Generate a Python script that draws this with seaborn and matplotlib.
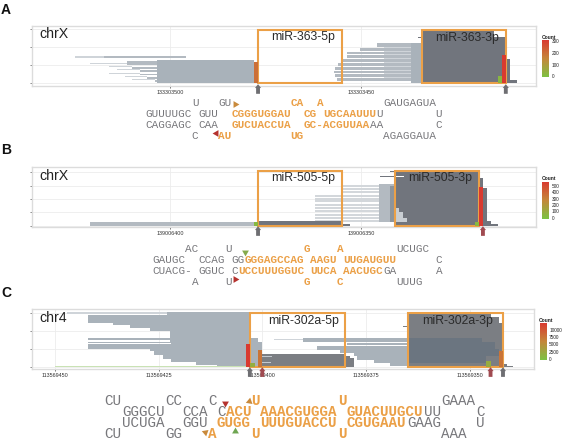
import numpy as np
import matplotlib
matplotlib.use("Agg")
import matplotlib.pyplot as plt
from matplotlib.path import Path
from matplotlib.patches import Rectangle
from matplotlib.cm import ScalarMappable
from matplotlib.colors import Normalize
import seaborn as sns

W, H = 571, 448
sns.set_theme(style="whitegrid", rc={"font.family": "Liberation Sans", "grid.color": "#ececec", "grid.linewidth": 0.6,
                                     "axes.edgecolor": "#dcdcdc", "axes.linewidth": 1.0})

PALE, MEDIUM, LIGHT, MID, DARK = "#cfd4d9", "#b3bac1", "#a9b2ba", "#6b7580", "#71757d"
ORANGE = "#eba047"
CMAP = sns.blend_palette(["#7cc242", "#c4873a", "#d93a30"], as_cmap=True)

# ---------- panel A (offsets in bases from base_a, rows in read counts)
base_a = 133303450
ticks_a = [133303500, 133303450]
yticks_a = [0, 100, 200, 300]
a_pale_start = [75, 71, 66, 64, 66, 62, 60, 75, -6, -16, -16]
a_pale_end = [67.5, 61.4, 60, 58, 58, 56, 54, 54, -13, -20, -18]
a_pale_low = [142, 107, 90, 72, 53, 35, 17, 1, 10, 145, 20]
a_pale_high = [149, 112, 96, 77, 59, 40, 22, 3, 223, 150, 30]
a_med_start = [67.5, 61.4, 60, 58, 58, 56, 54, -4.2, .2, 3.7, 3.7, 4.6, 5.9, 6.75, 7, 6.75, 6.3]
a_med_end = [46, 50, 50, 50, 50, 50, 50, -16, -16, -16, -16, -16, -16, -16, -16, -16, -16]
a_med_low = [140, 99, 80, 62, 43, 24, 5, 204, 180, 162, 140, 118, 96, 75, 55, 35, 11]
a_med_high = [149, 121, 92, 72, 53, 35, 17, 223, 197, 175, 155, 134, 112, 88, 70, 50, 29]
a_li_start = [53.5, -13]
a_li_end = [28, -16]
a_li_low = [0, 0]
a_li_high = [127, 223]
a_dk_start = [-16, -35, -38, -39, -15]
a_dk_end = [-35, -38, -39, -41, -16]
a_dk_low = [0, 0, 0, 0, 252]
a_dk_high = [296, 255, 136, 20, 257]
a_col_start = [28, -37, -36, 47, 65]
a_col_end = [27, -38, -37, 46, 63]
a_col_high = [120, 155, 40, 3, 3]
a_col_count = [200, 309, 20, 15, 15]
a_boxes = [(27, 5), (-16, -38)]
a_box_low, a_box_high = 0, 296
a_arrows = [27, -38]
a_arrow_colors = ["#6e6e72", "#6e6e72"]

# ---------- panel B
base_b = 139006350
ticks_b = [139006400, 139006350]
yticks_b = [0, 100, 200, 300, 400]
b_pale_start = [12, 12, 12, 12, 12, 12, 12, 12, 12,
                4.6, 4.6, 4.6, 4.6, 4.6, 4.6, 4.6, 4.6, 4.6, 4.6, 4.6, 4.6]
b_pale_end = [5] * 9 + [-5] * 12
b_pale_low = [25, 50, 75, 100, 125, 150, 175, 196, 216,
              25, 50, 75, 100, 125, 150, 175, 196, 216, 246, 266, 290]
b_pale_high = [41, 66, 91, 116, 141, 166, 191, 211, 231,
               41, 66, 91, 116, 141, 166, 191, 211, 231, 261, 281, 305]
b_li_start = [71, 5, -4.8]
b_li_end = [27, 3, -9]
b_li_low = [0, 0, 25]
b_li_high = [24, 10, 315]
b_md_start = [-7.5]
b_md_end = [-9]
b_md_low = [30]
b_md_high = [300]
b_dk_start = [27, 5, -9, -31, -32, -33, -34, -5, -7.5]
b_dk_end = [5, 3, -31, -32, -33, -34, -36, -9, -9]
b_dk_low = [0, 0, 0, 0, 0, 0, 0, 365, 405]
b_dk_high = [35, 15, 412, 355, 280, 35, 10, 372, 412]
b_spur_start = [-9, -9, -9]
b_spur_end = [-12, -11, -10]
b_spur_low = [30, 60, 100]
b_spur_high = [60, 100, 130]
b_notch_start = [-9]
b_notch_end = [-11.3]
b_notch_low = [362]
b_notch_high = [372]
b_col_start = [-31, 28, -30]
b_col_end = [-32, 27, -31]
b_col_high = [292, 30, 24]
b_col_count = [565, 30, 30]
b_boxes = [(27, 5), (-9, -31)]
b_box_low, b_box_high = 0, 412
b_arrows = [27, -32]
b_arrow_colors = ["#6e6e72", "#a04a50"]

# ---------- panel C
base_c = 113569375
ticks_c = [113569450, 113569425, 113569400, 113569375, 113569350]
yticks_c = [0, 100, 200, 300]
c_pale_start = [72, 22.3]
c_pale_end = [48, 15.1]
c_pale_low = [296, 150]
c_pale_high = [303, 153]
c_green_start = [75]
c_green_end = [29]
c_green_low = [0]
c_green_high = [3]
c_li_start = [48, 67, 61, 57, 52, 47.2, 67, 47.2, 67, 47, 67, 52, 51, 49, 47, 41, 36,
              28, 26, 15.1, 4.7, 11.9, 6.3, 3, 2.2, -1.8, -5.8]
c_li_end = [28, 28, 28, 28, 28, 28, 28, 28, 28, 28, 28, 28, 28, 28, 28, 28, 28,
            26, 25, -10, -10, -10, -10, -10, -10, -10, -10]
c_li_low = [287, 244, 231, 216, 202, 161, 150, 139, 131, 128, 102, 87, 68, 44, 26, 9, 0,
            0, 74, 137, 120, 96, 78, 59, 41, 22, 4]
c_li_high = [303, 287, 244, 231, 216, 202, 161, 150, 139, 131, 128, 102, 87, 68, 44, 26, 9,
             161, 137, 161, 133, 115, 96, 78, 59, 41, 22]
c_dk_start = [25, 5, 3.9, -10, -30, -32, -33, -34, -9]
c_dk_end = [5, 3.9, 2.9, -30, -32, -33, -34, -35.5, -10]
c_dk_low = [0, 0, 0, 0, 0, 0, 0, 0, 222]
c_dk_high = [74, 63, 50, 298, 280, 243, 15, 5, 228]
c_md_start = [-10, -10, -10, -10]
c_md_end = [-28, -31, -32, -29]
c_md_low = [140, 100, 60, 25]
c_md_high = [161, 140, 100, 60]
c_spur_start = [25, 25]
c_spur_end = [22.7, 23]
c_spur_low = [55, 22]
c_spur_high = [62, 28]
c_col_start = [29, 26, -32, -29, 28]
c_col_end = [28, 25, -33, -30, 26.7]
c_col_high = [128, 96, 87, 32, 24]
c_col_count = [12200, 7500, 7500, 2000, 1800]
c_boxes = [(28, 5), (-10, -33)]
c_box_low, c_box_high = 0, 302
c_arrows = [28, 25, -30, -33]
c_arrow_colors = ["#6e6e72", "#a04a50", "#a04a50", "#6e6e72"]

# ---------- colour bars
cb_ticks_a = [0, 100, 200, 300]
cb_ticks_b = [0, 100, 200, 300, 400, 500]
cb_ticks_c = [0, 2500, 5000, 7500, 10000]

# ---------- hairpins: column, letters (* = mature strand, orange)
hp_a = [
    [(7, "U"), (11, "GU"), (22, "*CA"), (26, "*A"), (36, "GAUGAGUA")],
    [(0, "GUUUUGC"), (8, "GUU"), (13, "*CGGGUGGAU"), (24, "*CG"), (27, "*UGCAAUUU"), (35, "U"), (44, "U")],
    [(0, "CAGGAGC"), (8, "CAA"), (13, "*GUCUACCUA"), (24, "*GC-ACGUUAA"), (34, "AA"), (44, "C")],
    [(7, "C"), (11, "*AU"), (22, "*UG"), (36, "AGAGGAUA")],
]
hp_b = [
    [(5, "AC"), (11, "U"), (23, "*G"), (28, "*A"), (37, "UCUGC")],
    [(0, "GAUGC"), (7, "CCAG"), (12, "GG"), (14, "*GGGAGCCAG"), (24, "*AAGU"), (29, "*UUGAUGUU"), (43, "C")],
    [(0, "CUACG-"), (7, "GGUC"), (12, "C"), (13, "*UCCUUUGGUC"), (24, "*UUCA"), (29, "*AACUGC"), (35, "GA"), (43, "A")],
    [(6, "A"), (11, "U"), (23, "*G"), (28, "*C"), (37, "UUUG")],
]
hp_c = [
    [(-2, "CU"), (5, "CC"), (10, "C"), (15, "*U"), (25, "*U"), (37, "GAAA")],
    [(0, "GGGCU"), (7, "CCA"), (11, "C"), (12, "*ACU"), (16, "*AAACGUGGA"), (26, "*GUACUUGCU"), (35, "UU"), (41, "C")],
    [(0, "UCUGA"), (7, "GGU"), (11, "*GUGG"), (16, "*UUUGUACCU"), (26, "*CGUGAAU"), (33, "GAAG"), (41, "U")],
    [(-2, "CU"), (5, "GG"), (10, "*A"), (15, "*U"), (25, "*U"), (37, "AAA")],
]

fig = plt.figure(figsize=(W / 100, H / 100), dpi=100)


def axes_px(l, t, r, b, **kw):
    return fig.add_axes([l / W, 1 - b / H, (r - l) / W, (b - t) / H], **kw)


ARROW = Path([(-.2, -.5), (.2, -.5), (.2, .1), (.32, .1), (0, .5), (-.32, .1), (-.2, .1), (-.2, -.5)], closed=True)


def reads(ax, base, start, end, low, high, color, z):
    start, end, low, high = [np.asarray(v, float) for v in (start, end, low, high)]
    ax.barh((low + high) / 2, end - start, left=base + start, height=high - low, color=color, lw=0, zorder=z)


def panel(rect, base, xticks, yticks, xlim, ylim, layers, cols, norm, boxes, box_y, arrows, arrow_colors, arrow_y):
    ax = axes_px(*rect)
    for layer, color, z in layers:
        reads(ax, base, *layer, color, z)
    cs, ce, ch, cc = [np.asarray(v, float) for v in cols]
    ax.bar(base + (cs + ce) / 2, ch, width=np.abs(ce - cs), color=CMAP(norm(cc)), lw=0, zorder=6.5)
    for s, e in boxes:
        ax.add_patch(Rectangle((base + s, box_y[0]), e - s, box_y[1] - box_y[0], fill=False, ec=ORANGE, lw=1.5, zorder=6))
    sns.scatterplot(x=[base + a for a in arrows], y=[arrow_y] * len(arrows), hue=list(range(len(arrows))),
                    palette=arrow_colors, marker=ARROW, s=48, lw=0, clip_on=False, legend=False, zorder=7, ax=ax)
    ax.set_xlim(base + xlim[0], base + xlim[1])
    ax.set_ylim(*ylim)
    ax.set_xticks(xticks, [str(t) for t in xticks])
    ax.set_yticks(yticks, [""] * len(yticks))
    ax.set_xlabel("")
    ax.set_ylabel("")
    ax.tick_params(axis="x", labelsize=3.9, length=1.5, width=0.5, bottom=True, pad=1.2, colors="#333333")
    ax.tick_params(axis="y", length=1.5, width=0.5, color="#555555", left=True, pad=0)
    ax.grid(True)
    ax.set_axisbelow(True)
    return ax


norm_a = Normalize(-9, 309)
norm_b = Normalize(-15, 565)
norm_c = Normalize(-300, 12200)

panel((32, 26, 536.3, 86.3), base_a, ticks_a, yticks_a, (86.3, -46), (-17, 318),
      [((a_pale_start, a_pale_end, a_pale_low, a_pale_high), PALE, 2),
       ((a_med_start, a_med_end, a_med_low, a_med_high), MEDIUM, 2.5),
       ((a_li_start, a_li_end, a_li_low, a_li_high), LIGHT, 3),
       ((a_dk_start, a_dk_end, a_dk_low, a_dk_high), DARK, 4)],
      (a_col_start, a_col_end, a_col_high, a_col_count), norm_a, a_boxes, (a_box_low, a_box_high),
      a_arrows, a_arrow_colors, -32)

panel((32, 167.3, 536.3, 227.3), base_b, ticks_b, yticks_b, (86.3, -46), (-12, 437),
      [((b_pale_start, b_pale_end, b_pale_low, b_pale_high), "#d3d7db", 2),
       ((b_li_start, b_li_end, b_li_low, b_li_high), "#b3bac1", 3),
       ((b_md_start, b_md_end, b_md_low, b_md_high), "#8d949b", 3.5),
       ((b_dk_start, b_dk_end, b_dk_low, b_dk_high), DARK, 4),
       ((b_spur_start, b_spur_end, b_spur_low, b_spur_high), "#c9ced3", 4.5),
       ((b_notch_start, b_notch_end, b_notch_low, b_notch_high), "#ffffff", 4.5)],
      (b_col_start, b_col_end, b_col_high, b_col_count), norm_b, b_boxes, (b_box_low, b_box_high),
      b_arrows, b_arrow_colors, -40)

panel((32, 309.3, 533.7, 369), base_c, ticks_c, yticks_c, (80.5, -40.4), (-11, 320),
      [((c_pale_start, c_pale_end, c_pale_low, c_pale_high), PALE, 2),
       ((c_li_start, c_li_end, c_li_low, c_li_high), LIGHT, 3),
       ((c_green_start, c_green_end, c_green_low, c_green_high), "#c9e2b4", 3.2),
       ((c_dk_start, c_dk_end, c_dk_low, c_dk_high), "#7b7e83", 4),
       ((c_md_start, c_md_end, c_md_low, c_md_high), MID, 4.5),
       ((c_spur_start, c_spur_end, c_spur_low, c_spur_high), "#c3c9cf", 4.6)],
      (c_col_start, c_col_end, c_col_high, c_col_count), norm_c, c_boxes, (c_box_low, c_box_high),
      c_arrows, c_arrow_colors, -28)


def colorbar(l, t, r, b, norm, ticks, fs=3.4):
    cax = axes_px(l, t, r, b)
    cb = fig.colorbar(ScalarMappable(norm=norm, cmap=CMAP), cax=cax)
    cb.set_ticks(ticks, labels=[str(v) for v in ticks])
    cb.outline.set_visible(False)
    cax.tick_params(length=0, labelsize=fs, pad=1.5, colors="#222222")
    cax.grid(False)
    fig.text((l - 0.5) / W, 1 - (t - 2.8) / H, "Count", fontsize=3.6, fontweight="bold", color="#222222", va="center")


colorbar(542, 40.3, 549.4, 77.3, norm_a, cb_ticks_a)
colorbar(542, 181.7, 549.4, 218.7, norm_b, cb_ticks_b)
colorbar(539.5, 323, 547, 360, norm_c, cb_ticks_c)

# overlay in picture pixels for the labels and hairpin annotation
ov = fig.add_axes([0, 0, 1, 1], zorder=10)
ov.set_xlim(0, W)
ov.set_ylim(H, 0)
ov.axis("off")
ov.patch.set_alpha(0)


def hairpin(rows, x0, cw, ys, fs):
    for y, row in zip(ys, rows):
        for col, s in row:
            hot = s.startswith("*")
            ov.text(x0 + col * cw, y, s.lstrip("*"), family="Liberation Mono", fontsize=fs, va="center", ha="left",
                    color=ORANGE if hot else "#77777b", fontweight="bold" if hot else "normal")


hairpin(hp_a, 145.7, 6.59, [102.7, 114, 125, 136], 7.9)
hairpin(hp_b, 152.3, 6.59, [248.7, 259.7, 270.7, 281.7], 7.9)
hairpin(hp_c, 122, 8.63, [400.7, 411.7, 422.7, 434], 10.3)

for (x, y, s) in [(1, 10, "A"), (1, 150, "B"), (1, 293, "C")]:
    ov.text(x, y, s, fontsize=10, fontweight="bold", color="#111111", va="center")
for (x, y, s) in [(39.3, 34.3, "chrX"), (39.3, 176, "chrX"), (39.3, 318.3, "chr4")]:
    ov.text(x, y, s, fontsize=10.2, color="#222222", va="center")
for (x, y, s) in [(303.1, 36.7, "miR-363-5p"), (466.7, 37.7, "miR-363-3p"),
                  (303.1, 177.7, "miR-505-5p"), (440, 177.7, "miR-505-3p"),
                  (303.3, 320.7, "miR-302a-5p"), (457.2, 320.7, "miR-302a-3p")]:
    ov.text(x, y, s, fontsize=8.8, color="#2b2b2b", va="center", ha="center")

tri_x = [235, 215.7, 244.8, 235, 225.1, 248.8, 204.7, 235]
tri_y = [104, 133.3, 251.7, 279.3, 403, 400.7, 432.3, 430.7]
tri_angle = [150, -30, 180, 30, 180, 110, 70, 0]
tri_color = ["#c98a3c", "#b5322e", "#86ab4c", "#b5322e", "#b5322e", "#c98a3c", "#c98a3c", "#6fa652"]
for x, y, a, c in zip(tri_x, tri_y, tri_angle, tri_color):
    sns.scatterplot(x=[x], y=[y], marker=(3, 0, a), s=32, color=c, lw=0, legend=False, ax=ov)
ov.set_xlim(0, W)
ov.set_ylim(H, 0)

fig.savefig("out.png", dpi=100)
